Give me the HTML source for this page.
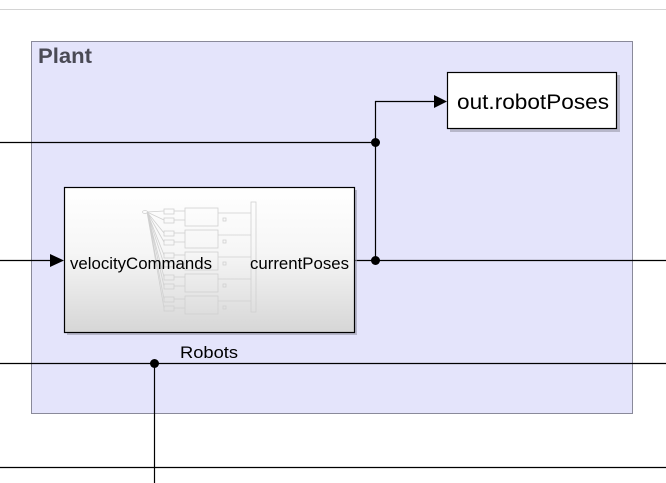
<!DOCTYPE html>
<html><head><meta charset="utf-8"><style>
html,body{margin:0;padding:0;background:#fff;width:666px;height:483px;overflow:hidden}
svg{display:block;font-family:"Liberation Sans",Arial,sans-serif}
</style></head><body>
<svg width="666" height="483" viewBox="0 0 666 483" xmlns="http://www.w3.org/2000/svg">
<defs>
<linearGradient id="g" x1="0" y1="0" x2="0" y2="1">
<stop offset="0" stop-color="#ffffff"/><stop offset="0.45" stop-color="#f6f6f6"/><stop offset="1" stop-color="#d6d6d6"/>
</linearGradient>
</defs>
<line x1="0" y1="9.5" x2="666" y2="9.5" stroke="#d4d4d4" stroke-width="1"/>
<rect x="31.5" y="41.5" width="601" height="372" fill="#e4e4fb" stroke="#8a8a9a" stroke-width="1"/>
<text x="38" y="63" font-size="21" font-weight="bold" fill="#4a4a55" textLength="54" lengthAdjust="spacingAndGlyphs">Plant</text>
<g stroke="#000" stroke-width="1.2" fill="none">
<line x1="0" y1="142.5" x2="375" y2="142.5"/>
<line x1="375.5" y1="101" x2="375.5" y2="261"/>
<line x1="375" y1="101.5" x2="436" y2="101.5"/>
<line x1="0" y1="260.5" x2="52" y2="260.5"/>
<line x1="354" y1="260.5" x2="666" y2="260.5"/>
<line x1="0" y1="363.5" x2="666" y2="363.5"/>
<line x1="154.5" y1="363" x2="154.5" y2="483"/>
<line x1="0" y1="467.5" x2="666" y2="467.5"/>
</g>
<polygon points="434,95 447,101.5 434,108" fill="#000"/>
<polygon points="50,254 64,260.5 50,267" fill="#000"/>
<circle cx="375.5" cy="142.5" r="4.5" fill="#000"/>
<circle cx="375.5" cy="260.5" r="4.5" fill="#000"/>
<circle cx="154.5" cy="363.5" r="4.5" fill="#000"/>
<rect x="450" y="75" width="170" height="57" fill="#9a9aaa" opacity="0.6"/>
<rect x="447.5" y="72.5" width="169" height="56" fill="#fff" stroke="#000" stroke-width="1.2"/>
<text x="457" y="109" font-size="21" fill="#000" textLength="152" lengthAdjust="spacingAndGlyphs">out.robotPoses</text>
<rect x="67" y="190" width="290" height="145" fill="#9a9aaa" opacity="0.6"/>
<rect x="64.5" y="187.5" width="290" height="145" fill="url(#g)" stroke="#000" stroke-width="1.2"/>
<g stroke="#d0d0d0" stroke-width="0.8" fill="none">
<ellipse cx="145" cy="212" rx="2.5" ry="1.5"/>
<rect x="251" y="202" width="5" height="110"/>
<g id="r">
<rect x="164" y="209" width="10" height="5"/><rect x="164" y="218" width="10" height="5"/>
<rect x="185" y="208" width="33" height="18"/><rect x="223" y="218" width="3" height="3"/>
<line x1="174" y1="211" x2="185" y2="211"/><line x1="174" y1="220" x2="185" y2="220"/>
<line x1="218" y1="213" x2="251" y2="213"/>
</g>
<use href="#r" y="22"/><use href="#r" y="44"/><use href="#r" y="66"/><use href="#r" y="88"/>
<path d="M147 212 L164 211 M147 212 L164 220 M147 212 L164 233 M147 212 L164 242 M147 212 L164 255 M147 212 L164 264 M147 212 L164 277 M147 212 L164 286 M147 212 L164 299 M147 212 L164 308"/>
</g>
<text x="70" y="269" font-size="16.5" fill="#000" textLength="142" lengthAdjust="spacingAndGlyphs">velocityCommands</text>
<text x="250" y="269" font-size="16.5" fill="#000" textLength="99" lengthAdjust="spacingAndGlyphs">currentPoses</text>
<text x="180" y="358" font-size="16.5" fill="#000" textLength="58" lengthAdjust="spacingAndGlyphs">Robots</text>
</svg>
</body></html>
